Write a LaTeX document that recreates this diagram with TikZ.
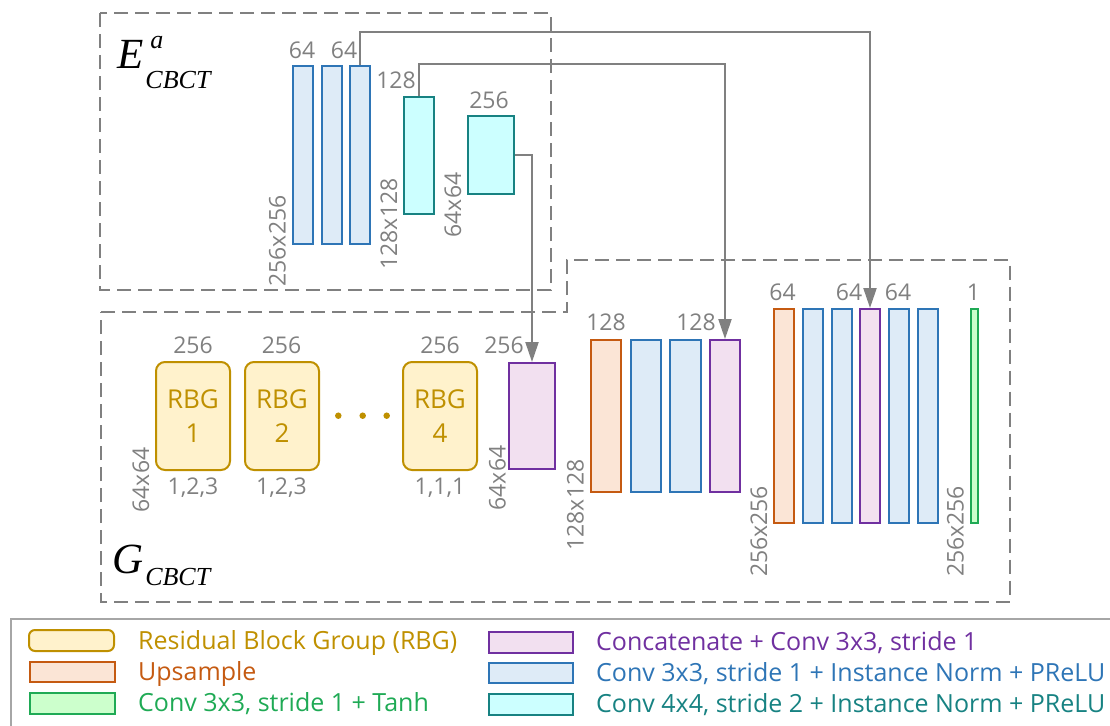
\documentclass[tikz,border=0pt]{standalone}
\usepackage{fontspec}
\setmainfont{Open Sans}
\newfontfamily\tnr{Liberation Serif}
\usetikzlibrary{arrows.meta}
\definecolor{lgray}{HTML}{808080}
\definecolor{legframe}{HTML}{A6A6A6}
\definecolor{bluec}{HTML}{2E75B6}
\definecolor{bluef}{HTML}{DEEBF7}
\definecolor{tealc}{HTML}{178282}
\definecolor{tealf}{HTML}{CCFFFF}
\definecolor{purc}{HTML}{7030A0}
\definecolor{purf}{HTML}{F2E0F0}
\definecolor{oranc}{HTML}{C55A11}
\definecolor{oranf}{HTML}{FBE5D6}
\definecolor{greenc}{HTML}{1FAA55}
\definecolor{greenf}{HTML}{CCFFCC}
\definecolor{goldc}{HTML}{BF9000}
\definecolor{goldf}{HTML}{FFF2CC}
\newcommand{\blockbox}[6]{\node[#2, anchor=north west, minimum width={#5-#3}, minimum height={#6-#4}] (#1) at (#3,#4) {};}
\tikzset{
  layer/.style={line width=2pt, inner sep=0pt},
  convb/.style={layer, draw=bluec, fill=bluef},
  convt/.style={layer, draw=tealc, fill=tealf},
  concat/.style={layer, draw=purc, fill=purf},
  upsmp/.style={layer, draw=oranc, fill=oranf},
  tanhb/.style={layer, draw=greenc, fill=greenf},
  rbg/.style={layer, draw=goldc, fill=goldf, rounded corners=9pt, text=goldc,
     align=center, font=\fontsize{26}{34}\selectfont},
  lbl/.style={text=lgray, inner sep=0pt, font=\fontsize{23}{23}\selectfont},
  rlbl/.style={lbl, rotate=90},
  grp/.style={draw=lgray, line width=2pt, dash pattern=on 14pt off 7pt},
  arr/.style={draw=lgray, line width=2.2pt, -{Triangle[length=20pt,width=13pt]}},
  dotn/.style={circle, fill=goldc, inner sep=0pt, minimum size=6.5pt},
  legt/.style={inner sep=0pt, anchor=base west, font=\fontsize{25}{25}\selectfont},
  mathl/.style={inner sep=0pt, anchor=base west},
}
\begin{document}
\begin{tikzpicture}[x=1pt,y=-1pt]
\useasboundingbox (0,0) rectangle (1110,725);
% group frames
\draw[grp] (100,13) rectangle (551,290);
\draw[grp] (101,312) -- (567,312) -- (567,260) -- (1009.5,260) -- (1009.5,601.5) -- (101,601.5) -- cycle;
% group titles
\node[mathl] (etitle) at (117,68) {\tnr\itshape\fontsize{43}{43}\selectfont E\fontsize{26}{26}\selectfont\rlap{\kern7pt\raisebox{20pt}{a}}\kern2pt\raisebox{-20pt}{CBCT}};
\node[mathl] (gtitle) at (112,573) {\tnr\itshape\fontsize{43}{43}\selectfont G\fontsize{26}{26}\selectfont\kern2pt\raisebox{-12pt}{CBCT}};
% encoder
\blockbox{e1}{convb}{292}{65}{312}{243}
\blockbox{e2}{convb}{321}{65}{341}{243}
\blockbox{e3}{convb}{349}{65}{369}{243}
\blockbox{e4}{convt}{403}{96}{433}{213}
\blockbox{e5}{convt}{467}{115}{513}{193}
% decoder
\node[rbg, minimum width=74pt, minimum height=108pt] (r1) at (193,416) {RBG\\1};
\node[rbg, minimum width=74pt, minimum height=108pt] (r2) at (282,416) {RBG\\2};
\node[rbg, minimum width=74pt, minimum height=108pt] (r4) at (440,416) {RBG\\4};
\node[dotn] (d1) at (338.3,415.7) {};
\node[dotn] (d2) at (362.7,415.7) {};
\node[dotn] (d3) at (386.7,415.7) {};
\blockbox{p1}{concat}{508}{362}{554}{468}
\blockbox{o1}{upsmp}{590}{339}{620}{491}
\blockbox{f1}{convb}{630}{339}{660}{491}
\blockbox{f2}{convb}{669}{339}{700}{491}
\blockbox{p2}{concat}{709}{339}{739}{491}
\blockbox{o2}{upsmp}{773}{308}{793}{522}
\blockbox{g1}{convb}{802}{308}{822}{522}
\blockbox{g2}{convb}{831}{308}{851}{522}
\blockbox{p3}{concat}{859}{308}{879}{522}
\blockbox{g3}{convb}{888}{308}{908}{522}
\blockbox{g4}{convb}{917}{308}{937}{522}
\blockbox{out}{tanhb}{970}{308}{977}{522}
% skip connections
\draw[arr] (e3.north) -- ++(0,-33) -| (p3.north);
\draw[arr] (e4.north) -- ++(0,-31.7) -| (p2.north);
\draw[arr] (e5.east) -| (p1.north);
% encoder labels
\node[lbl, anchor=base] (le1) at (302,58.5) {64};
\node[lbl, anchor=base] (le3) at (344,58.5) {64};
\node[lbl, anchor=base] (le4) at (396,88) {128};
\node[lbl, anchor=base] (le5) at (489,108) {256};
\node[rlbl] (se1) at (277.5,241) {256x256};
\node[rlbl] (se4) at (389,224) {128x128};
\node[rlbl] (se5) at (453,205) {64x64};
% decoder labels
\node[lbl, anchor=base] (lr1) at (193,353) {256};
\node[lbl, anchor=base] (lr2) at (281.5,353) {256};
\node[lbl, anchor=base] (lr4) at (440,353) {256};
\node[lbl, anchor=base] (lp1) at (504,353) {256};
\node[lbl, anchor=base] (kr1) at (193,494) {1,2,3};
\node[lbl, anchor=base] (kr2) at (281.5,494) {1,2,3};
\node[lbl, anchor=base] (kr4) at (440,494) {1,1,1};
\node[rlbl] (sr1) at (141,480) {64x64};
\node[rlbl] (sp1) at (497.5,478) {64x64};
\node[rlbl] (so1) at (575.5,505) {128x128};
\node[rlbl] (so2) at (759,531.5) {256x256};
\node[rlbl] (sout) at (955.5,531.5) {256x256};
\node[lbl, anchor=base] (lo1) at (606,330.5) {128};
\node[lbl, anchor=base] (lp2) at (696,330.5) {128};
\node[lbl, anchor=base] (lo2) at (782.5,300.7) {64};
\node[lbl, anchor=base] (lp3) at (849,300.7) {64};
\node[lbl, anchor=base] (lg3) at (898,300.7) {64};
\node[lbl, anchor=base] (lout) at (973.5,300.7) {1};
% legend
\draw[draw=legframe, line width=1.5pt] (11,619) rectangle (1125,740);
\node[rbg, rounded corners=6pt, minimum width=85pt, minimum height=21pt] (k1) at (71.5,640.5) {};
\blockbox{k2}{upsmp}{29}{661}{114}{681}
\blockbox{k3}{tanhb}{29}{692}{114}{713}
\blockbox{k4}{concat}{488}{631}{572}{652}
\blockbox{k5}{convb}{488}{662}{572}{682}
\blockbox{k6}{convt}{488}{693}{572}{714}
\node[legt, text=goldc] (kt1) at (138,649) {Residual Block Group (RBG)};
\node[legt, text=oranc] (kt2) at (138,680) {Upsample};
\node[legt, text=greenc] (kt3) at (138,711) {Conv 3x3, stride 1 + Tanh};
\node[legt, text=purc] (kt4) at (596,650.5) {Concatenate + Conv 3x3, stride 1};
\node[legt, text=bluec] (kt5) at (596,681.5) {Conv 3x3, stride 1 + Instance Norm + PReLU};
\node[legt, text=tealc] (kt6) at (596,712.5) {Conv 4x4, stride 2 + Instance Norm + PReLU};
\end{tikzpicture}
\end{document}
